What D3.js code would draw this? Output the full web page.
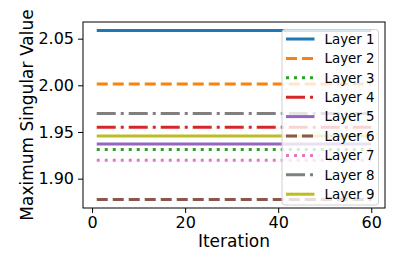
<!DOCTYPE html>
<html>
<head>
<meta charset="utf-8">
<script src="https://cdn.jsdelivr.net/npm/d3@7"></script>
<style>
  body { margin: 0; background: #fff; }
  text { font-family: "DejaVu Sans", sans-serif; fill: #000; }
</style>
</head>
<body>
<div id="chart"></div>
<script>
// values
const layers = ["Layer 1", "Layer 2", "Layer 3", "Layer 4", "Layer 5", "Layer 6", "Layer 7", "Layer 8", "Layer 9"];
const maxSingular = [2.0588, 2.0014, 1.9313, 1.9551, 1.9370, 1.8776, 1.9197, 1.9697, 1.9458];
const iterStart = 1;
const iterEnd = 60;
const xTicks = [0, 20, 40, 60];
const yTicks = [1.90, 1.95, 2.00, 2.05];

const colors = ["#1f77b4", "#ff7f0e", "#2ca02c", "#d62728", "#9467bd", "#8c564b", "#e377c2", "#7f7f7f", "#bcbd22"];
const dashes = [null, "11,5", "3,5", "19,5,3,5", null, "11,5", "3,5", "19,5,3,5", null];

let dimensions = {
    width: 407,
    height: 271,
    margin: { top: 22, right: 22, bottom: 63, left: 83 },
}
dimensions.boundedWidth = dimensions.width - dimensions.margin.left - dimensions.margin.right;
dimensions.boundedHeight = dimensions.height - dimensions.margin.top - dimensions.margin.bottom;

const svg = d3.select("#chart")
    .append("svg")
    .attr("width", dimensions.width)
    .attr("height", dimensions.height);

const g = svg.append("g")
    .attr("transform", `translate(${dimensions.margin.left}, ${dimensions.margin.top})`);

// matplotlib style 5% padding
const x = d3.scaleLinear()
    .domain([iterStart - 0.05 * (iterEnd - iterStart), iterEnd + 0.05 * (iterEnd - iterStart)])
    .range([0, dimensions.boundedWidth]);

const yMin = d3.min(maxSingular), yMax = d3.max(maxSingular);
const pad = 0.05 * (yMax - yMin);
const y = d3.scaleLinear()
    .domain([yMin - pad, yMax + pad])
    .range([dimensions.boundedHeight, 0]);

// lines
const series = layers.map((name, i) => ({
    name, color: colors[i], dash: dashes[i],
    points: [[iterStart, maxSingular[i]], [iterEnd, maxSingular[i]]]
}));

const line = d3.line().x(d => x(d[0])).y(d => y(d[1]));

g.append("g")
    .selectAll("path")
    .data(series)
    .join("path")
    .attr("d", d => line(d.points))
    .attr("fill", "none")
    .attr("stroke", d => d.color)
    .attr("stroke-width", 3)
    .attr("stroke-dasharray", d => d.dash);

// axes
const xAxis = g.append("g")
    .attr("transform", `translate(0, ${dimensions.boundedHeight})`)
    .call(d3.axisBottom(x).tickValues(xTicks).tickSize(5).tickPadding(4).tickSizeOuter(0));
const yAxis = g.append("g")
    .call(d3.axisLeft(y).tickValues(yTicks).tickFormat(d3.format(".2f")).tickSize(5).tickPadding(4).tickSizeOuter(0));

[xAxis, yAxis].forEach(a => {
    a.select(".domain").remove();
    a.selectAll("text").style("font-size", "16px").style("font-family", "DejaVu Sans");
    a.selectAll("line").attr("stroke-width", 1);
});

// frame
g.append("rect")
    .attr("x", 0).attr("y", 0)
    .attr("width", dimensions.boundedWidth)
    .attr("height", dimensions.boundedHeight)
    .attr("fill", "none")
    .attr("stroke", "#000")
    .attr("stroke-width", 1);

// axis labels
svg.append("text")
    .attr("x", dimensions.margin.left + dimensions.boundedWidth / 2)
    .attr("y", 246.5)
    .attr("text-anchor", "middle")
    .style("font-size", "17px")
    .text("Iteration");

svg.append("text")
    .attr("transform", `translate(33, ${dimensions.margin.top + dimensions.boundedHeight / 2}) rotate(-90)`)
    .attr("text-anchor", "middle")
    .style("font-size", "17px")
    .text("Maximum Singular Value");

// legend
const legend = svg.append("g").attr("transform", "translate(282, 29.5)");
legend.append("rect")
    .attr("width", 96.5)
    .attr("height", 175.5)
    .attr("rx", 3)
    .attr("fill", "#fff")
    .attr("fill-opacity", 0.8)
    .attr("stroke", "#d0d0d0")
    .attr("stroke-width", 1);

const rows = legend.selectAll(".row")
    .data(series)
    .join("g")
    .attr("transform", (d, i) => `translate(0, ${9.5 + i * 19.4})`);

rows.append("line")
    .attr("x1", 4).attr("x2", 32.5)
    .attr("stroke", d => d.color)
    .attr("stroke-width", 3)
    .attr("stroke-dasharray", d => d.dash);

rows.append("text")
    .attr("x", 42.5)
    .attr("dy", "0.36em")
    .style("font-size", "13.4px")
    .text(d => d.name);
</script>
</body>
</html>
